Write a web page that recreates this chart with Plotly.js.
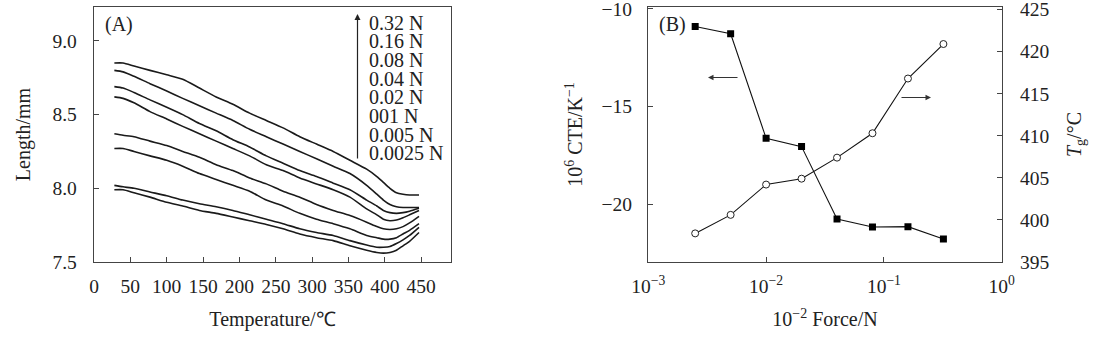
<!DOCTYPE html>
<html>
<head>
<meta charset="utf-8">
<script src="https://cdn.plot.ly/plotly-3.0.1.min.js"></script>
<style>html,body{margin:0;padding:0;background:#fff;}#chart{width:1096px;height:339px;}</style>
</head>
<body>
<div id="chart"></div>
<script>
// ---------- Panel A data ----------
const temperature = [28, 40, 55, 77, 100, 122, 145, 168, 191, 214, 237, 260, 283, 306, 329, 352, 375, 389, 398, 407, 416, 425, 434, 447];
const len032 = [8.85, 8.85, 8.83, 8.80, 8.77, 8.74, 8.68, 8.62, 8.57, 8.51, 8.46, 8.41, 8.35, 8.30, 8.25, 8.19, 8.13, 8.08, 8.04, 8.00, 7.97, 7.96, 7.955, 7.955];
const len016 = [8.80, 8.79, 8.76, 8.71, 8.66, 8.61, 8.56, 8.51, 8.46, 8.40, 8.35, 8.30, 8.25, 8.20, 8.15, 8.10, 8.02, 7.96, 7.92, 7.89, 7.875, 7.87, 7.87, 7.87];
const len008 = [8.69, 8.68, 8.65, 8.60, 8.55, 8.50, 8.44, 8.39, 8.33, 8.28, 8.22, 8.17, 8.12, 8.08, 8.035, 7.99, 7.92, 7.88, 7.85, 7.835, 7.83, 7.835, 7.845, 7.865];
const len004 = [8.62, 8.61, 8.58, 8.52, 8.47, 8.42, 8.37, 8.32, 8.27, 8.22, 8.16, 8.12, 8.07, 8.03, 7.99, 7.94, 7.86, 7.82, 7.79, 7.78, 7.785, 7.80, 7.82, 7.85];
const len002 = [8.37, 8.36, 8.35, 8.32, 8.29, 8.25, 8.21, 8.16, 8.12, 8.07, 8.03, 7.98, 7.94, 7.89, 7.85, 7.815, 7.77, 7.74, 7.725, 7.72, 7.725, 7.74, 7.765, 7.81];
const len001 = [8.27, 8.27, 8.25, 8.22, 8.19, 8.15, 8.10, 8.06, 8.02, 7.98, 7.92, 7.88, 7.83, 7.79, 7.76, 7.725, 7.68, 7.665, 7.655, 7.655, 7.665, 7.69, 7.715, 7.76];
const len0005 = [8.02, 8.01, 8.00, 7.975, 7.95, 7.92, 7.895, 7.875, 7.85, 7.82, 7.79, 7.76, 7.725, 7.70, 7.68, 7.645, 7.615, 7.60, 7.60, 7.605, 7.625, 7.65, 7.68, 7.735];
const len00025 = [7.99, 7.99, 7.97, 7.94, 7.905, 7.88, 7.85, 7.83, 7.805, 7.78, 7.755, 7.725, 7.69, 7.665, 7.645, 7.61, 7.58, 7.565, 7.56, 7.565, 7.58, 7.61, 7.64, 7.70];
const forceLabels = ["0.32 N", "0.16 N", "0.08 N", "0.04 N", "0.02 N", "001 N", "0.005 N", "0.0025 N"];
const tempTicks = [0, 50, 100, 150, 200, 250, 300, 350, 400, 450];
const lengthTicks = [7.5, 8.0, 8.5, 9.0];
const lengthTickText = ["7.5", "8.0", "8.5", "9.0"];

// ---------- Panel B data ----------
const force = [0.0025, 0.005, 0.01, 0.02, 0.04, 0.08, 0.16, 0.32];
const cte = [-10.90, -11.27, -16.62, -17.05, -20.76, -21.17, -21.15, -21.78];
const tg = [398.4, 400.6, 404.2, 404.9, 407.4, 410.3, 416.8, 420.9];
const forceTicks = [0.001, 0.01, 0.1, 1];
const forceTickText = ["10<sup>−3</sup>", "10<sup>−2</sup>", "10<sup>−1</sup>", "10<sup>0</sup>"];
const cteTicks = [-20, -15, -10];
const cteTickText = ["−20", "−15", "−10"];
const tgTicks = [395, 400, 405, 410, 415, 420, 425];

const FONT = "'Liberation Serif', 'Times New Roman', serif";
const INK = "#222";
const AX = "#444";

const lengthSeries = [len032, len016, len008, len004, len002, len001, len0005, len00025];
const traces = lengthSeries.map((ys, i) => ({
  x: temperature, y: ys, type: "scatter", mode: "lines",
  name: forceLabels[i], xaxis: "x", yaxis: "y",
  line: {color: "#1a1a1a", width: 1.6, shape: "spline", smoothing: 0.6},
  showlegend: false, hoverinfo: "skip"
}));

traces.push({
  x: force, y: cte, type: "scatter", mode: "lines+markers", xaxis: "x2", yaxis: "y2",
  line: {color: "#111", width: 1.1},
  marker: {symbol: "square", size: 7, color: "#000"}, showlegend: false
});
traces.push({
  x: force, y: tg, type: "scatter", mode: "lines+markers", xaxis: "x2", yaxis: "y3",
  line: {color: "#111", width: 1.1},
  marker: {symbol: "circle", size: 7, color: "#fff", line: {color: "#222", width: 1}}, showlegend: false
});

const tickFont = {family: FONT, size: 19.5, color: INK};
const titleFont = {family: FONT, size: 20, color: INK};

const H = 339, T = 7, B = 77;
const plotH = H - T - B;
const py = p => (H - B - p) / plotH;   // pixel row -> paper y
const px = p => p / 1096;              // pixel column -> paper x

const annotations = [
  {text: "(A)", x: px(119), y: py(25), xref: "paper", yref: "paper", xanchor: "center", yanchor: "middle",
   showarrow: false, font: {family: FONT, size: 20, color: INK}},
  {text: "(B)", x: px(672), y: py(25), xref: "paper", yref: "paper", xanchor: "center", yanchor: "middle",
   showarrow: false, font: {family: FONT, size: 20, color: INK}},
  // upward arrow for force legend
  {text: "", x: px(357.5), y: py(14), xref: "paper", yref: "paper", showarrow: true, ax: 0, ay: 146,
   arrowhead: 2, arrowsize: 1, arrowwidth: 1.2, arrowcolor: "#222"},
  // panel B direction arrows
  {text: "", x: px(708), y: py(77.5), xref: "paper", yref: "paper", showarrow: true, ax: 31, ay: 0,
   arrowhead: 2, arrowsize: 1, arrowwidth: 1.1, arrowcolor: "#333"},
  {text: "", x: px(931), y: py(97.5), xref: "paper", yref: "paper", showarrow: true, ax: -31, ay: 0,
   arrowhead: 2, arrowsize: 1, arrowwidth: 1.1, arrowcolor: "#333"}
];
forceLabels.forEach((t, i) => {
  annotations.push({text: t, x: px(367), y: py(22.7 + i * 18.65), xref: "paper", yref: "paper",
    xanchor: "left", yanchor: "middle", showarrow: false, font: {family: FONT, size: 20, color: INK}});
});

const layout = {
  width: 1096, height: 339,
  margin: {l: 0, r: 0, t: T, b: B},
  paper_bgcolor: "#fff", plot_bgcolor: "#fff",
  font: {family: FONT, color: INK},
  xaxis: {
    domain: [px(94), px(451)], range: [0, 491], anchor: "y",
    tickvals: tempTicks, ticks: "inside", ticklen: 5, tickcolor: AX, tickwidth: 1,
    showline: true, mirror: true, linecolor: AX, linewidth: 1.3, showgrid: false, zeroline: false,
    tickfont: tickFont, ticklabelstandoff: 6, ticklabeloverflow: "allow",
    title: {text: "Temperature/℃", font: titleFont, standoff: 16}
  },
  yaxis: {
    domain: [0, 1], range: [7.5, 9.23], anchor: "x",
    tickvals: lengthTicks, ticktext: lengthTickText, ticks: "inside", ticklen: 5, tickcolor: AX,
    showline: true, mirror: true, linecolor: AX, linewidth: 1.3, showgrid: false, zeroline: false,
    tickfont: tickFont, ticklabelstandoff: 12, ticklabeloverflow: "allow",
    title: {text: "Length/mm", font: titleFont, standoff: 16}
  },
  xaxis2: {
    domain: [px(648.3), px(1001.7)], type: "log", range: [-3, 0], anchor: "y2",
    tickvals: forceTicks, ticktext: forceTickText, ticks: "inside", ticklen: 5, tickcolor: AX,
    showline: true, mirror: true, linecolor: AX, linewidth: 1.3, showgrid: false, zeroline: false,
    tickfont: tickFont, ticklabelstandoff: 6, ticklabeloverflow: "allow",
    title: {text: "10<sup>−2</sup> Force/N", font: titleFont, standoff: 16}
  },
  yaxis2: {
    domain: [0, 1], range: [-22.96, -9.9], anchor: "x2",
    tickvals: cteTicks, ticktext: cteTickText, ticks: "inside", ticklen: 5, tickcolor: AX,
    showline: true, mirror: true, linecolor: AX, linewidth: 1.3, showgrid: false, zeroline: false,
    tickfont: tickFont, ticklabelstandoff: 11, ticklabeloverflow: "allow",
    title: {text: "10<sup>6</sup> CTE/K<sup>−1</sup>", font: titleFont, standoff: 13}
  },
  yaxis3: {
    overlaying: "y2", side: "right", anchor: "x2", range: [395, 425.3],
    tickvals: tgTicks, ticks: "inside", ticklen: 5, tickcolor: AX,
    showline: true, linecolor: AX, linewidth: 1.3, showgrid: false, zeroline: false,
    tickfont: tickFont, ticklabelstandoff: 13, ticklabeloverflow: "allow",
    title: {text: "<i>T</i><sub>g</sub>/°C", font: titleFont, standoff: 18}
  },
  annotations: annotations
};

Plotly.newPlot("chart", traces, layout, {displayModeBar: false, staticPlot: true});
</script>
</body>
</html>
